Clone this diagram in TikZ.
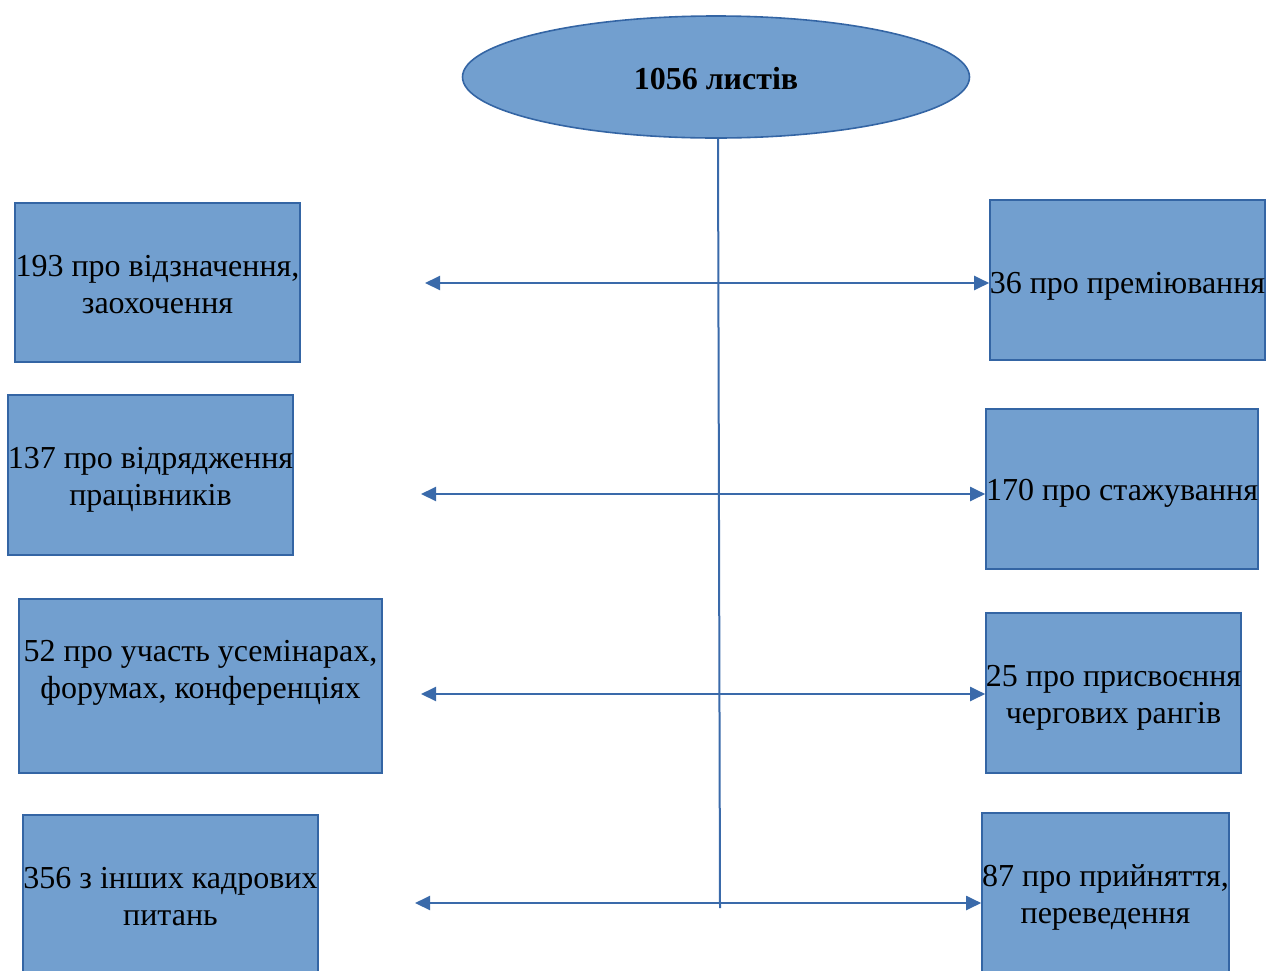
\documentclass[tikz,border=0pt]{standalone}
\usepackage{fontspec}
\setmainfont{Liberation Serif}
\usetikzlibrary{shapes.geometric,arrows.meta}
\definecolor{boxfill}{RGB}{114,159,207}
\definecolor{boxline}{RGB}{52,101,164}
\definecolor{arrowline}{RGB}{58,106,170}
\newcommand\boxtext[2][-5pt]{\raisebox{#1}[\height][\depth]{\makebox[0pt]{\begin{tabular}{@{}c@{}}#2\end{tabular}}}}
\begin{document}
\begin{tikzpicture}[x=1pt,y=-1pt,
  box/.style={draw=boxline,fill=boxfill,line width=1.6pt,rectangle,inner sep=0pt,
    font=\fontsize{32}{37}\selectfont,minimum height=160pt},
  oval/.style={draw=boxline,fill=boxfill,line width=1.6pt,ellipse,inner sep=0pt,
    minimum width=507pt,minimum height=122pt,font=\fontsize{32}{37}\selectfont\bfseries},
  arr/.style={draw=arrowline,line width=2pt,{Triangle[length=15pt,width=14pt]}-{Triangle[length=15pt,width=14pt]}},
  vline/.style={draw=arrowline,line width=2pt}]
\useasboundingbox (0,0) rectangle (1266,970);
\clip (0,0) rectangle (1266,970);
\node[oval] (E) at (716,77) {\raisebox{-2pt}[\height][\depth]{1056 листів}};
\node[box,minimum width=285pt,minimum height=159pt] (L1) at (157.5,282.5) {\boxtext{193 про відзначення,\\заохочення}};
\node[box,minimum width=285pt] (L2) at (150.5,475) {\boxtext{137 про відрядження\\працівників}};
\node[box,minimum width=363pt,minimum height=174pt] (L3) at (200.5,686) {\boxtext[13pt]{52 про участь усемінарах,\\форумах, конференціях}};
\node[box,minimum width=295pt] (L4) at (170.5,895) {\boxtext{356 з інших кадрових\\питань}};
\node[box,minimum width=275pt] (R1) at (1127.5,280) {\boxtext[-6pt]{36 про преміювання}};
\node[box,minimum width=272pt] (R2) at (1122,489) {\boxtext[-4pt]{170 про стажування}};
\node[box,minimum width=255pt] (R3) at (1113.5,693) {\boxtext{25 про присвоєння\\чергових рангів}};
\node[box,minimum width=247pt] (R4) at (1105.5,893) {\boxtext{87 про прийняття,\\переведення}};
\coordinate (vt) at (718,138);
\coordinate (a1) at (425,283);
\coordinate (a2) at (421,494);
\coordinate (a3) at (421,694);
\coordinate (a4) at (415,903);
\coordinate (vb) at (720,908);
\draw[arr] (a1) -- (a1 -| R1.west);
\draw[arr] (a2) -- (a2 -| R2.west);
\draw[arr] (a3) -- (a3 -| R3.west);
\draw[arr] (a4) -- (a4 -| R4.west);
\draw[vline] (E.south -| vt) -- (vb);
\end{tikzpicture}
\end{document}
